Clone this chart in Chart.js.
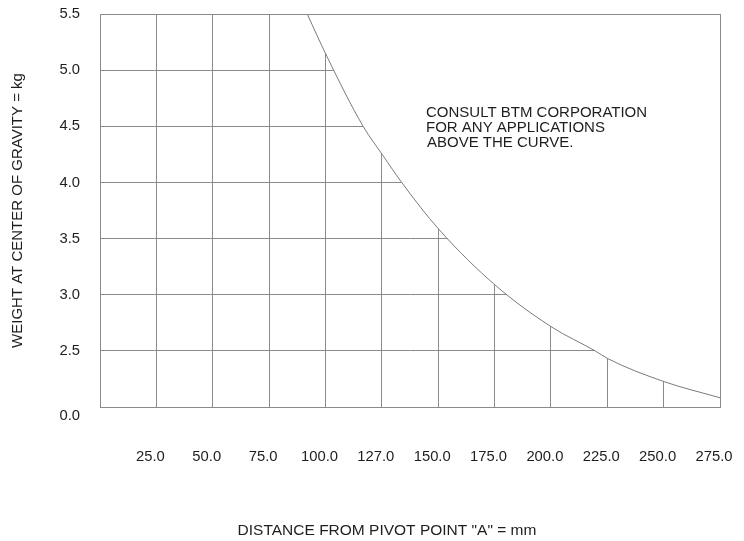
<!DOCTYPE html>
<html>
<head>
<meta charset="utf-8">
<script src="https://cdn.jsdelivr.net/npm/chart.js@4"></script>
<style>
  body { margin: 0; background: #fff; }
  #wrap { width: 744px; height: 541px; }
</style>
</head>
<body>
<div id="wrap"><canvas id="load_chart"></canvas></div>
<script>
// tick labels as printed on the sheet
const xTickLabels = ['25.0', '50.0', '75.0', '100.0', '127.0', '150.0', '175.0', '200.0', '225.0', '250.0', '275.0'];
const yTickLabels = ['0.0', '2.5', '3.0', '3.5', '4.0', '4.5', '5.0', '5.5'];

// limit curve: distance (mm) / weight (kg)
const curveDistance = [91.9, 100.7, 116.7, 125.5, 133.8, 150.4, 175.6, 200.5, 219.6, 225.3, 250.2, 275];
const curveWeight = [5.5, 5.12, 4.5, 4.24, 4.0, 3.58, 3.08, 2.71, 2.5, 2.15, 1.13, 0.41];

const noteLines = ['CONSULT BTM CORPORATION', 'FOR ANY APPLICATIONS', 'ABOVE THE CURVE.'];
const xTitle = 'DISTANCE FROM PIVOT POINT "A" = mm';
const yTitle = 'WEIGHT AT CENTER OF GRAVITY = kg';

const gridColor = '#8a8a8a';
const textColor = '#1e1e1e';
const fontFamily = '"Liberation Sans", Arial, sans-serif';

// y axis is broken: 0.0 -> 2.5 is one row, then 0.5 kg per row
function kgToRow(kg) {
  if (kg >= 2.5) return 1 + (kg - 2.5) / 0.5;
  return kg / 2.5;
}

const chartData = {
  datasets: [{
    label: 'limit',
    data: curveDistance.map((d, i) => ({x: d, y: kgToRow(curveWeight[i])})),
    borderColor: '#7a7a7a',
    borderWidth: 1,
    backgroundColor: '#ffffff',
    fill: 'end',
    pointRadius: 0,
    cubicInterpolationMode: 'monotone'
  }]
};

// frame + free text drawn over the white fill
const overlay = {
  id: 'overlay',
  afterDatasetsDraw(chart) {
    const ctx = chart.ctx;
    const a = chart.chartArea;
    ctx.save();
    ctx.strokeStyle = gridColor;
    ctx.lineWidth = 1;
    ctx.strokeRect(a.left + 0.5, a.top + 0.5, a.width, a.height);

    ctx.fillStyle = textColor;
    ctx.font = '15px ' + fontFamily;
    ctx.textBaseline = 'middle';
    ctx.textAlign = 'left';
    noteLines.forEach((t, i) => {
      ctx.fillText(t, a.left + 326 + (i == 2 ? 1 : 0), a.top + 99 + i * 15);
    });

    ctx.font = '15.5px ' + fontFamily;
    ctx.textAlign = 'center';
    ctx.fillText(xTitle, a.left + 287, a.bottom + 124);
    ctx.restore();
  }
};

const ctx1 = document.getElementById('load_chart').getContext('2d');
const chart1 = new Chart(ctx1, {
  type: 'line',
  data: chartData,
  plugins: [overlay],
  options: {
    responsive: true,
    maintainAspectRatio: false,
    animation: false,
    layout: { padding: { top: 14, right: 24, left: 0, bottom: 0 } },
    plugins: {
      legend: { display: false },
      tooltip: { enabled: false }
    },
    scales: {
      x: {
        type: 'linear',
        min: 0,
        max: 275,
        // fixed box, and no extra side padding from the label padding
        afterFit: (scale) => {
          scale.height = 134;
          scale.paddingLeft = 0;
          scale.paddingRight = 0;
        },
        grid: { color: gridColor, lineWidth: 1, drawTicks: false },
        border: { color: gridColor, width: 1 },
        ticks: {
          stepSize: 25,
          autoSkip: false,
          maxRotation: 0,
          padding: 41,
          labelOffset: -6,
          color: textColor,
          font: { family: fontFamily, size: 14.8 },
          callback: (v, i) => (i == 0 ? '' : xTickLabels[i - 1])
        }
      },
      y: {
        type: 'linear',
        min: 0,
        max: 7,
        afterFit: (scale) => {
          scale.width = 100;
          scale.paddingTop = 0;
          scale.paddingBottom = 0;
        },
        grid: { color: gridColor, lineWidth: 1, drawTicks: false },
        border: { color: gridColor, width: 1 },
        title: {
          display: true,
          text: yTitle,
          color: textColor,
          font: { family: fontFamily, size: 15 },
          padding: { top: 9, bottom: 0 }
        },
        ticks: {
          stepSize: 1,
          autoSkip: false,
          padding: 20,
          color: textColor,
          font: { family: fontFamily, size: 14.8 },
          // the 0.0 label sits a little below its line on the sheet
          callback: (v) => (v == 0 ? ['', yTickLabels[0]] : yTickLabels[v])
        }
      }
    }
  }
});
</script>
</body>
</html>
